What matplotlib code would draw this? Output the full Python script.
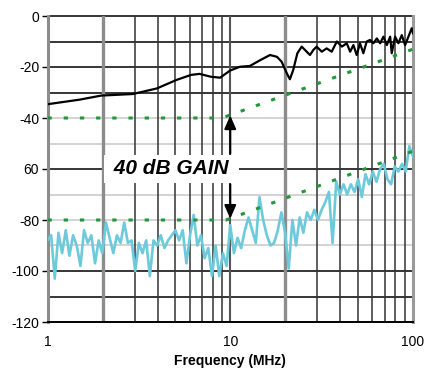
import matplotlib.pyplot as plt

cyan_freq = [1.0, 1.047, 1.096, 1.148, 1.202, 1.259, 1.318, 1.380, 1.445, 1.514,
             1.585, 1.660, 1.738, 1.820, 1.905, 1.995, 2.089, 2.188, 2.291, 2.399,
             2.512, 2.630, 2.754, 2.884, 3.020, 3.162, 3.311, 3.467, 3.631, 3.802,
             3.981, 4.169, 4.365, 4.571, 4.786, 5.012, 5.248, 5.495, 5.754, 6.026,
             6.310, 6.607, 6.918, 7.244, 7.586, 7.943, 8.318, 8.710, 9.120, 9.550,
             10.00, 10.47, 10.96, 11.48, 12.02, 12.59, 13.18, 13.80, 14.45, 15.14,
             15.85, 16.60, 17.38, 18.20, 19.05, 19.95, 20.89, 21.88, 22.91, 23.99,
             25.12, 26.30, 27.54, 28.84, 30.20, 31.62, 33.11, 34.67, 36.31, 38.02,
             39.81, 41.69, 43.65, 45.71, 47.86, 50.12, 52.48, 54.95, 57.54, 60.26,
             63.10, 66.07, 69.18, 72.44, 75.86, 79.43, 83.18, 87.10, 91.20, 95.50,
             100.0]
cyan_db = [-88, -86, -103, -85, -93, -84, -94, -86, -90, -98,
           -84, -89, -86, -97, -88, -93, -81, -87, -93, -86,
           -89, -81, -89, -88, -100, -89, -93, -88, -102, -88,
           -90, -86, -91, -88, -86, -84, -88, -84, -97, -86,
           -78, -90, -86, -95, -91, -102, -90, -102, -93, -98,
           -82, -93, -87, -91, -84, -79, -84, -89, -71, -80,
           -86, -90, -89, -84, -77, -85, -99, -80, -90, -79,
           -85, -77, -80, -76, -80, -76, -73, -69, -89, -65,
           -70, -66, -70, -66, -69, -64, -71, -62, -66, -61,
           -65, -60, -58, -64, -66, -59, -61, -58, -61, -51,
           -55]

black_freq = [1.0, 1.5, 1.97, 2.93, 3.97, 5.07, 6.1, 6.8, 7.8, 8.8,
              9.97, 11.3, 12.8, 14.6, 16.5, 18.0, 19.1, 20.4, 21.2, 22.1,
              23.3, 24.6, 26.2, 27.3, 28.5, 29.7, 31.7, 33.7, 35.9, 38.3,
              40.8, 43.4, 45.3, 47.2, 49.2, 51.3, 53.5, 55.8, 58.2, 60.7,
              63.4, 66.1, 68.9, 71.9, 75.0, 76.5, 79.8, 83.2, 86.8, 90.5,
              94.4, 98.4, 100]
black_db = [-34.6, -32.8, -31.2, -30.6, -28.4, -25.1, -23.1, -22.7, -23.8, -24.2,
            -21.4, -19.9, -19.6, -17.3, -15.3, -16.0, -17.9, -22.5, -24.8, -21.2,
            -14.6, -12.0, -14.0, -15.3, -13.3, -12.0, -14.0, -12.7, -14.0, -10.0,
            -12.0, -10.7, -14.0, -11.4, -15.3, -10.7, -14.6, -10.0, -9.4, -10.7,
            -8.8, -10.7, -8.1, -11.4, -8.1, -14.6, -8.1, -10.7, -7.5, -11.4,
            -8.1, -4.8, -6.8]

upper_freq = [1, 9, 100]
upper_db = [-40, -40, -13]
lower_freq = [1, 9.5, 100]
lower_db = [-80, -80, -53]

y_ticks = [0, -20, -40, -60, -80, -100, -120]
y_labels = ["0", "-20", "-40", "60", "-80", "-100", "-120"]
x_ticks = [1, 10, 100]
x_labels = ["1", "10", "100"]

plt.rcParams["font.family"] = ["Liberation Sans", "DejaVu Sans"]

fig = plt.figure(figsize=(4.26, 3.71), dpi=100)
ax = fig.add_axes([47.5 / 426, 1 - 322 / 371, 365.5 / 426, 306 / 371])
ax.set_xscale("log")
ax.set_xlim(1, 100)
ax.set_ylim(-120, 0)

# grid drawn by hand, the weights differ line to line
for y in [0, -10, -20, -30, -60, -100, -110]:
    ax.axhline(y, color="black", lw=1.1, zorder=1, clip_on=False)
for y in [-40, -50, -70, -80, -90]:
    ax.axhline(y, color="#c8c8c8", lw=1.1, zorder=1)
for x in [3, 4, 5, 6, 7, 8, 9, 30, 40, 50, 60, 70, 80, 90]:
    ax.axvline(x, color="#333333", lw=1.1, zorder=1)
for x in [2, 20]:
    ax.axvline(x, color="#8c8c8c", lw=2.4, zorder=1)
ax.axvline(10, color="#555555", lw=1.5, zorder=1)
ax.axvline(100, color="#9a9a9a", lw=2.2, zorder=1, clip_on=False)

ax.plot(cyan_freq, cyan_db, color="#6ccadb", lw=1.9, zorder=3)
ax.plot(black_freq, black_db, color="black", lw=1.6, zorder=3)
ax.plot(upper_freq, upper_db, color="#23963a", lw=2.2, dashes=(1.4, 3.9),
        dash_capstyle="butt", zorder=4)
ax.plot(lower_freq, lower_db, color="#23963a", lw=2.2, dashes=(1.4, 3.9),
        dash_capstyle="butt", zorder=4)

ax.text(4.75, -60, " 40 dB GAIN ", fontsize=15, fontweight="bold", style="italic",
        ha="center", va="center", zorder=5,
        bbox=dict(boxstyle="square,pad=0.2", fc="white", ec="none"))
arrow = dict(arrowstyle="-|>,head_width=0.35,head_length=0.8", color="black", lw=1.5,
             shrinkA=0, shrinkB=0)
ax.annotate("", xy=(10, -39), xytext=(10, -54), arrowprops=arrow, zorder=6)
ax.annotate("", xy=(10, -79.5), xytext=(10, -66), arrowprops=arrow, zorder=6)

ax.set_yticks(y_ticks)
ax.set_yticklabels(y_labels)
ax.set_xticks(x_ticks)
ax.set_xticklabels(x_labels)
ax.minorticks_off()
ax.tick_params(axis="y", length=4, width=1, color="black", labelsize=10, pad=2)
ax.tick_params(axis="x", length=0, labelsize=10, pad=9)
ax.set_xlabel("Frequency (MHz)", fontsize=10, fontweight="bold", labelpad=4)

for side in ["top", "right"]:
    ax.spines[side].set_visible(False)
ax.spines["left"].set_color("#8c8c8c")
ax.spines["left"].set_linewidth(2.2)
ax.spines["bottom"].set_color("black")
ax.spines["bottom"].set_linewidth(1.4)

fig.savefig("out.png", dpi=100)
